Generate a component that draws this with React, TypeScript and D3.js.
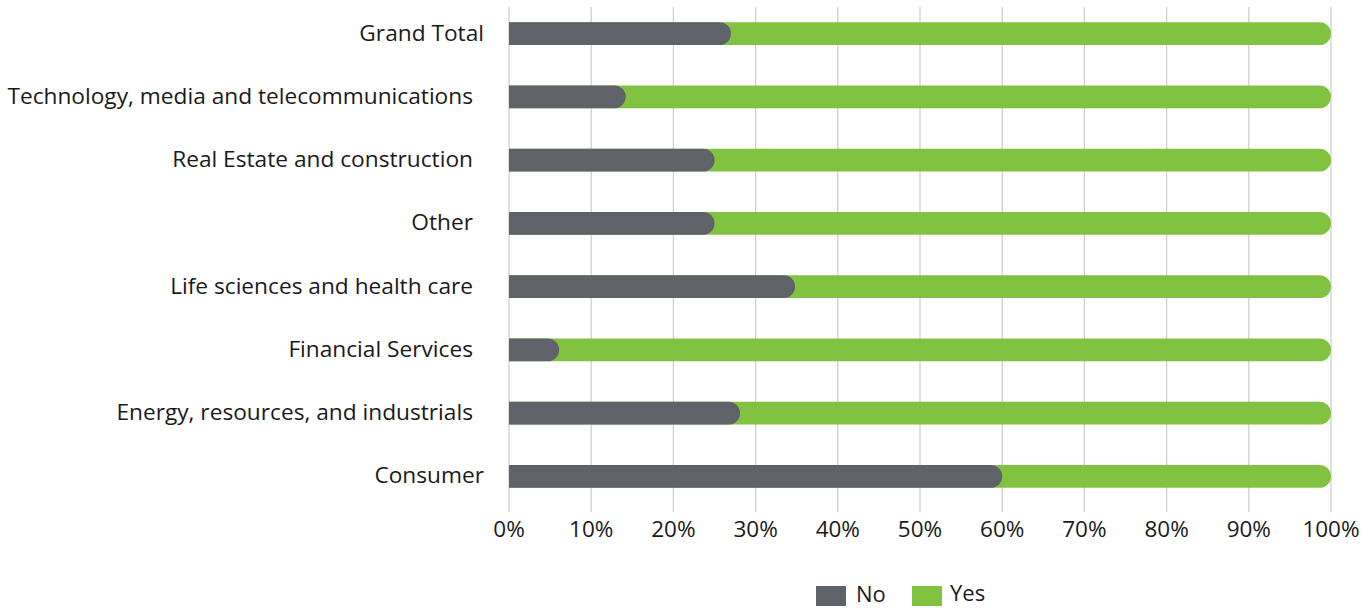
import React from "react";
import * as d3 from "d3";

const categories = [
  "Grand Total",
  "Technology, media and telecommunications ",
  "Real Estate and construction ",
  "Other ",
  "Life sciences and health care ",
  "Financial Services ",
  "Energy, resources, and industrials ",
  "Consumer",
];
const noValues = [27, 14.2, 25, 25, 34.8, 6.1, 28.1, 60];
const yesValues = noValues.map((v) => 100 - v);
const tickValues = [0, 10, 20, 30, 40, 50, 60, 70, 80, 90, 100];
const seriesNames = ["No", "Yes"];
const colors = ["#5f6369", "#81c341"];

const W = 1371;
const H = 608;
const FONT = "'Open Sans', sans-serif";

export default function App() {
  const x = d3.scaleLinear().domain([0, 100]).range([509, 1331]);
  const y = d3.scaleBand().domain(categories).range([2, 508]).paddingInner(0.64).paddingOuter(0.32);
  const bh = y.bandwidth();
  const r = bh / 2;

  const roundRight = (x0: number, x1: number, yy: number) => {
    const rr = Math.min(r, x1 - x0);
    const p = d3.path();
    p.moveTo(x0, yy);
    p.lineTo(x1 - rr, yy);
    p.arcTo(x1, yy, x1, yy + rr, rr);
    p.lineTo(x1, yy + bh - rr);
    p.arcTo(x1, yy + bh, x1 - rr, yy + bh, rr);
    p.lineTo(x0, yy + bh);
    p.closePath();
    return p.toString();
  };

  return (
    <div style={{ position: "absolute", left: 0, top: 0 }}>
      <svg width={W} height={H} style={{ display: "block", background: "#fff" }}>
        {tickValues.map((t) => (
          <line key={"g" + t} x1={x(t)} x2={x(t)} y1={7} y2={512} stroke="#cfcfcf" strokeWidth={1.3} />
        ))}
        {categories.map((c, i) => {
          const yy = y(c)!;
          const trailing = c.endsWith(" ");
          return (
            <g key={c}>
              <path d={roundRight(x(0), x(noValues[i] + yesValues[i]), yy)} fill={colors[1]} />
              <path d={roundRight(x(0), x(noValues[i]), yy)} fill={colors[0]} />
              <text
                x={trailing ? 473 : 484}
                y={yy + bh / 2 - 1}
                dy="0.35em"
                textAnchor="end"
                fontFamily={FONT}
                fontSize={22.7}
                fill="#1a1a1a"
              >
                {c.trimEnd()}
              </text>
            </g>
          );
        })}
        {tickValues.map((t) => (
          <text key={"t" + t} x={x(t)} y={529} dy="0.35em" textAnchor="middle" fontFamily={FONT} fontSize={22.5} fill="#1a1a1a">
            {t + "%"}
          </text>
        ))}
        <g>
          <rect x={816} y={586} width={30} height={20} fill={colors[0]} />
          <text x={856} y={594} dy="0.35em" fontFamily={FONT} fontSize={22} fill="#1a1a1a">{seriesNames[0]}</text>
          <rect x={912} y={586} width={30} height={20} fill={colors[1]} />
          <text x={950} y={593} dy="0.35em" fontFamily={FONT} fontSize={22} fill="#1a1a1a">{seriesNames[1]}</text>
        </g>
      </svg>
    </div>
  );
}
